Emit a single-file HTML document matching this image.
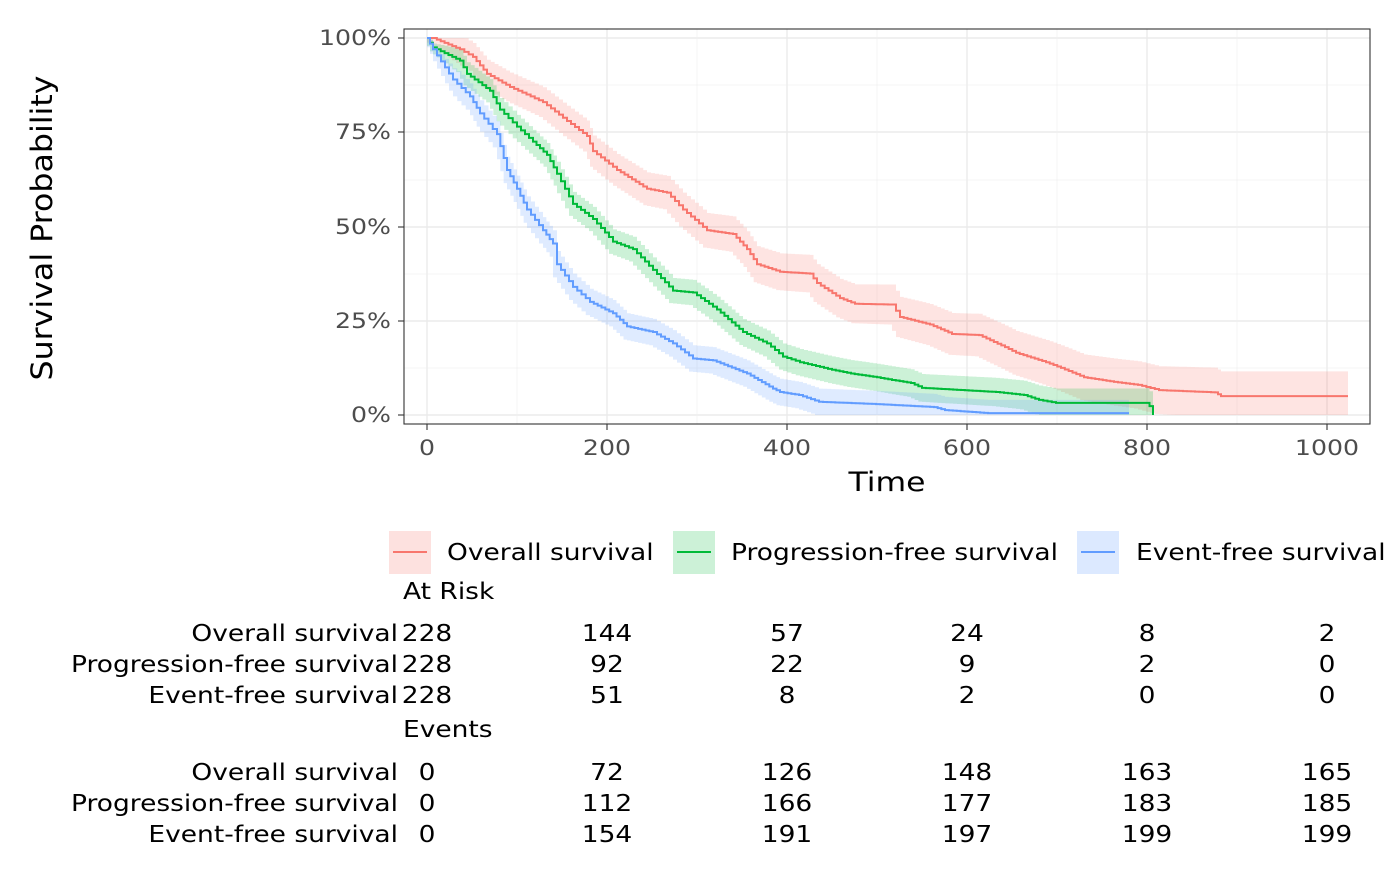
<!DOCTYPE html>
<html><head><meta charset="utf-8"><style>
body{margin:0;background:#fff;}
svg text{font-family:"DejaVu Sans","Liberation Sans",sans-serif;}
</style></head><body>
<svg id="s" width="1400" height="866" xmlns="http://www.w3.org/2000/svg">
<rect x="0" y="0" width="1400" height="866" fill="#fff"/>
<g id="grid"></g>
<g id="bands"></g>
<g id="lines"></g>
<rect x="404" y="29" width="966" height="395" fill="none" stroke="#333" stroke-width="1.1"/>
<g font-size="21.5" fill="#4d4d4d" text-anchor="end" class="st" data-f="1.17">
<text x="391" y="45">100%</text><text x="391" y="139">75%</text><text x="391" y="234">50%</text><text x="391" y="328">25%</text><text x="391" y="422">0%</text>
</g>
<g font-size="21.5" fill="#4d4d4d" text-anchor="middle" class="st">
<text x="427" y="455">0</text><text x="607" y="455">200</text><text x="787" y="455">400</text><text x="967" y="455">600</text><text x="1147" y="455">800</text><text x="1327" y="455">1000</text>
</g>
<g stroke="#333" stroke-width="1.1">
<line x1="398" y1="38" x2="404" y2="38"/><line x1="398" y1="132" x2="404" y2="132"/><line x1="398" y1="227" x2="404" y2="227"/><line x1="398" y1="321" x2="404" y2="321"/><line x1="398" y1="415" x2="404" y2="415"/>
<line x1="427" y1="424" x2="427" y2="430"/><line x1="607" y1="424" x2="607" y2="430"/><line x1="787" y1="424" x2="787" y2="430"/><line x1="967" y1="424" x2="967" y2="430"/><line x1="1147" y1="424" x2="1147" y2="430"/><line x1="1327" y1="424" x2="1327" y2="430"/>
</g>
<text x="887" y="491" font-size="27" text-anchor="middle" fill="#000" textLength="77" lengthAdjust="spacingAndGlyphs">Time</text>
<text transform="translate(52,228) rotate(-90)" font-size="29" text-anchor="middle" fill="#000" textLength="305" lengthAdjust="spacingAndGlyphs">Survival Probability</text>
<g font-size="23" fill="#000" class="st">
<rect x="389" y="531" width="42" height="43" fill="#f8766d" fill-opacity="0.22"/><line x1="393" y1="552" x2="427" y2="552" stroke="#f8766d" stroke-width="2"/>
<text x="447" y="560">Overall survival</text>
<rect x="673" y="531" width="42" height="43" fill="#00ba38" fill-opacity="0.2"/><line x1="677" y1="552" x2="711" y2="552" stroke="#00ba38" stroke-width="2"/>
<text x="731" y="560">Progression-free survival</text>
<rect x="1077" y="531" width="42" height="43" fill="#619cff" fill-opacity="0.22"/><line x1="1081" y1="552" x2="1115" y2="552" stroke="#619cff" stroke-width="2"/>
<text x="1136" y="560">Event-free survival</text>
</g>
<g font-size="23" fill="#000" class="st">
<text x="403" y="599">At Risk</text>
<text x="403" y="737">Events</text>
<g text-anchor="end">
<text x="398" y="641">Overall survival</text><text x="398" y="672">Progression-free survival</text><text x="398" y="703">Event-free survival</text>
<text x="398" y="780">Overall survival</text><text x="398" y="811">Progression-free survival</text><text x="398" y="842">Event-free survival</text>
</g>
<g text-anchor="middle" id="tbl"></g>
</g>
</svg>
<script>
var NS="http://www.w3.org/2000/svg";
function el(p,t,a){var e=document.createElementNS(NS,t);for(var k in a)e.setAttribute(k,a[k]);p.appendChild(e);return e;}
var g=document.getElementById('grid');
[38,132,227,321,415].forEach(function(y){el(g,'line',{x1:404,x2:1370,y1:y,y2:y,stroke:'#ebebeb','stroke-width':1.4});});
[85,180,274,368].forEach(function(y){el(g,'line',{x1:404,x2:1370,y1:y,y2:y,stroke:'#f2f2f2','stroke-width':0.8});});
[427,607,787,967,1147,1327].forEach(function(x){el(g,'line',{y1:29,y2:424,x1:x,x2:x,stroke:'#ebebeb','stroke-width':1.4});});
[517,697,877,1057,1237].forEach(function(x){el(g,'line',{y1:29,y2:424,x1:x,x2:x,stroke:'#f2f2f2','stroke-width':0.8});});
function Y(p){return 415-377*p;}
var series=[
 {c:'#f8766d',a:0.035,b:0.035,end:1348,k:[[427,1],[433,1],[460,0.97],[473,0.95],[487,0.905],[510,0.87],[543,0.83],[567,0.78],[587,0.74],[593,0.70],[617,0.65],[647,0.60],[667,0.59],[683,0.545],[707,0.49],[733,0.48],[747,0.44],[757,0.40],[780,0.38],[810,0.375],[817,0.35],[840,0.31],[855,0.295],[892,0.293],[900,0.26],[930,0.24],[952,0.215],[979,0.212],[1005,0.18],[1016,0.165],[1046,0.14],[1061,0.125],[1084,0.10],[1114,0.088],[1138,0.08],[1159,0.066],[1215,0.06],[1221,0.05],[1348,0.05]]},
 {c:'#00ba38',a:0.03,b:0.012,end:1153,drop:true,k:[[427,1],[433,0.975],[460,0.94],[467,0.905],[490,0.86],[500,0.81],[517,0.765],[533,0.725],[547,0.69],[557,0.64],[573,0.56],[593,0.52],[613,0.46],[633,0.44],[653,0.385],[673,0.33],[693,0.325],[717,0.28],[743,0.22],[767,0.19],[783,0.155],[800,0.14],[832,0.12],[851,0.11],[877,0.10],[892,0.093],[911,0.085],[922,0.072],[996,0.061],[1024,0.053],[1039,0.04],[1056,0.032],[1146,0.032],[1153,0.015]]},
 {c:'#619cff',a:0.035,b:0,end:1129,k:[[427,1],[433,0.97],[453,0.89],[470,0.845],[480,0.80],[497,0.745],[507,0.65],[517,0.60],[527,0.545],[543,0.49],[553,0.455],[557,0.40],[573,0.34],[590,0.30],[613,0.27],[627,0.235],[653,0.22],[673,0.19],[693,0.15],[713,0.145],[747,0.11],[773,0.07],[780,0.061],[799,0.053],[819,0.035],[876,0.029],[934,0.021],[945,0.013],[988,0.005],[1129,0.005]]}
];
var B=document.getElementById('bands'),L=document.getElementById('lines');
series.forEach(function(s){
 var pts=[];var k=s.k;
 for(var i=0;i<k.length-1;i++){var x0=k[i][0],x1=k[i+1][0],p0=k[i][1],p1=k[i+1][1];
  var n=Math.max(1,Math.round((x1-x0)/4));
  if(p0==p1)n=1;
  for(var j=0;j<n;j++){pts.push([x0+(x1-x0)*j/n,p0+(p1-p0)*j/n]);}}
 pts.push([s.end,k[k.length-1][1]]);
 var d='',up=[],lo=[];
 for(var i=0;i<pts.length;i++){var x=pts[i][0],p=pts[i][1];
  if(i==0)d='M'+x+','+Y(p);else d+='V'+Y(p);
  if(i<pts.length-1)d+='H'+pts[i+1][0];
  var w=(s.a+s.b*(x-427)/900)*Math.min(1,(x-427)/40+0.2);
  up.push([x,Math.min(1,p+w)]);lo.push([x,Math.max(0,p-w)]);}
 if(s.drop)d+='V'+Y(0);
 var bd='M'+up[0][0]+','+Y(up[0][1]);
 for(var i=1;i<up.length;i++)bd+='H'+up[i][0]+'V'+Y(up[i][1]);
 bd+='H'+s.end;
 for(var i=lo.length-1;i>=1;i--)bd+='V'+Y(lo[i][1])+'H'+lo[i-1][0];
 bd+='V'+Y(lo[0][1])+'Z';
 el(B,'path',{d:bd,fill:s.c,'fill-opacity':0.2,stroke:'none'});
 el(L,'path',{d:d,fill:'none',stroke:s.c,'stroke-width':2});
});
var T=document.getElementById('tbl');
var xs=[427,607,787,967,1147,1327];
var rows=[[641,[228,144,57,24,8,2]],[672,[228,92,22,9,2,0]],[703,[228,51,8,2,0,0]],[780,[0,72,126,148,163,165]],[811,[0,112,166,177,183,185]],[842,[0,154,191,197,199,199]]];
rows.forEach(function(r){r[1].forEach(function(v,i){var t=el(T,'text',{x:xs[i],y:r[0]});t.textContent=v;});});
document.querySelectorAll('.st text').forEach(function(t){
 var l=t.getComputedTextLength();
 var fs=parseFloat(t.parentNode.closest('g[font-size]').getAttribute('font-size'));
 var f=(fs>22?21*1.26/23:20*1.26/21.5);
 t.setAttribute('textLength',(l*f).toFixed(1));
 t.setAttribute('lengthAdjust','spacingAndGlyphs');
});
</script>
</body></html>
